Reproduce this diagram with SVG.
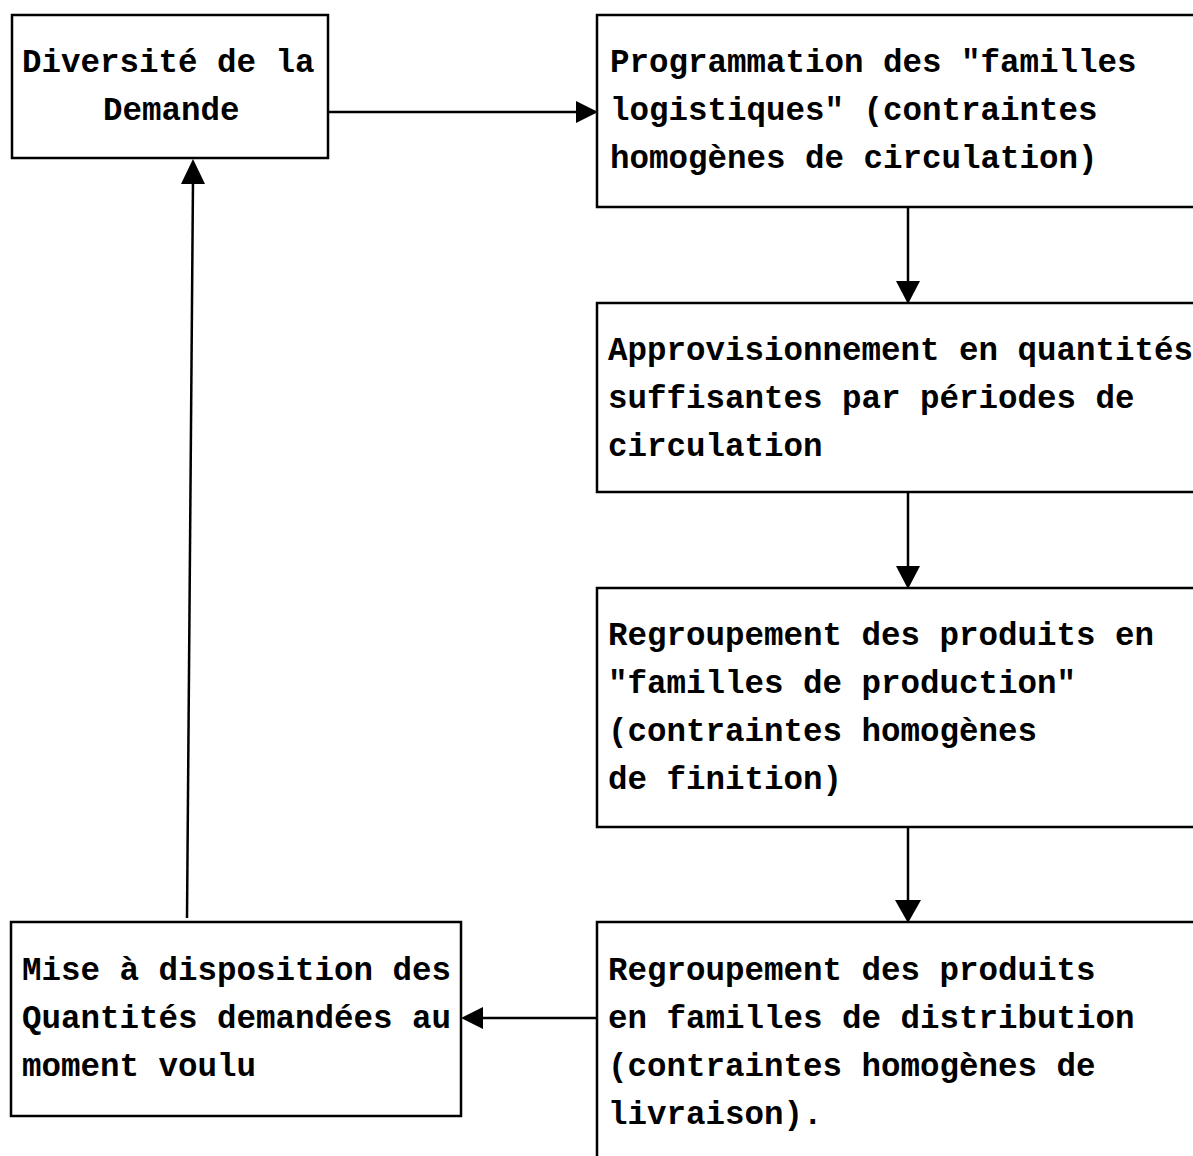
<svg xmlns="http://www.w3.org/2000/svg" width="1193" height="1156" viewBox="0 0 1193 1156">
<defs>
<style>
.box{fill:none;stroke:#000;stroke-width:2.5}
.lbl{font-family:"Liberation Mono","Courier New",monospace;font-weight:bold;font-size:32.5px;fill:#000}
.con{stroke:#000;stroke-width:2.5;fill:none}
.head{fill:#000}
</style>
</defs>
<rect width="1193" height="1156" fill="#fff"/>
<g id="connectors">
<line class="con" x1="328" y1="112" x2="584" y2="112"/>
<path class="head" d="M576,101 L598,112 L576,123 z"/>
<line class="con" x1="908" y1="207" x2="908" y2="288"/>
<path class="head" d="M896,281 L908,304 L920,281 z"/>
<line class="con" x1="908" y1="492" x2="908" y2="573"/>
<path class="head" d="M896,566 L908,589 L920,566 z"/>
<line class="con" x1="908" y1="827" x2="908" y2="907"/>
<path class="head" d="M895,900 L908,923 L921,900 z"/>
<line class="con" x1="597" y1="1018" x2="474" y2="1018"/>
<path class="head" d="M483,1007 L461,1018 L483,1029 z"/>
<line class="con" x1="187" y1="918" x2="193" y2="180"/>
<path class="head" d="M181,184 L193,159 L205,184 z"/>
</g>
<g id="n1">
<rect class="box" x="12" y="15" width="316" height="143"/>
<text class="lbl" x="22" y="72">Diversité de la</text>
<text class="lbl" x="103" y="120">Demande</text>
</g>
<g id="n2">
<path class="box" d="M1196,15 H597 V207 H1196"/>
<text class="lbl" x="610" y="72">Programmation des "familles</text>
<text class="lbl" x="610" y="120">logistiques" (contraintes</text>
<text class="lbl" x="610" y="168">homogènes de circulation)</text>
</g>
<g id="n3">
<path class="box" d="M1196,303 H597 V492 H1196"/>
<text class="lbl" x="608" y="360">Approvisionnement en quantités</text>
<text class="lbl" x="608" y="408">suffisantes par périodes de</text>
<text class="lbl" x="608" y="456">circulation</text>
</g>
<g id="n4">
<path class="box" d="M1196,588 H597 V827 H1196"/>
<text class="lbl" x="608" y="645">Regroupement des produits en</text>
<text class="lbl" x="608" y="693">"familles de production"</text>
<text class="lbl" x="608" y="741">(contraintes homogènes</text>
<text class="lbl" x="608" y="789">de finition)</text>
</g>
<g id="n5">
<path class="box" d="M1196,922 H597 V1160"/>
<text class="lbl" x="608" y="980">Regroupement des produits</text>
<text class="lbl" x="608" y="1028">en familles de distribution</text>
<text class="lbl" x="608" y="1076">(contraintes homogènes de</text>
<text class="lbl" x="608" y="1124">livraison).</text>
</g>
<g id="n6">
<rect class="box" x="11" y="922" width="450" height="194"/>
<text class="lbl" x="22" y="980">Mise à disposition des</text>
<text class="lbl" x="22" y="1028">Quantités demandées au</text>
<text class="lbl" x="22" y="1076">moment voulu</text>
</g>
</svg>
